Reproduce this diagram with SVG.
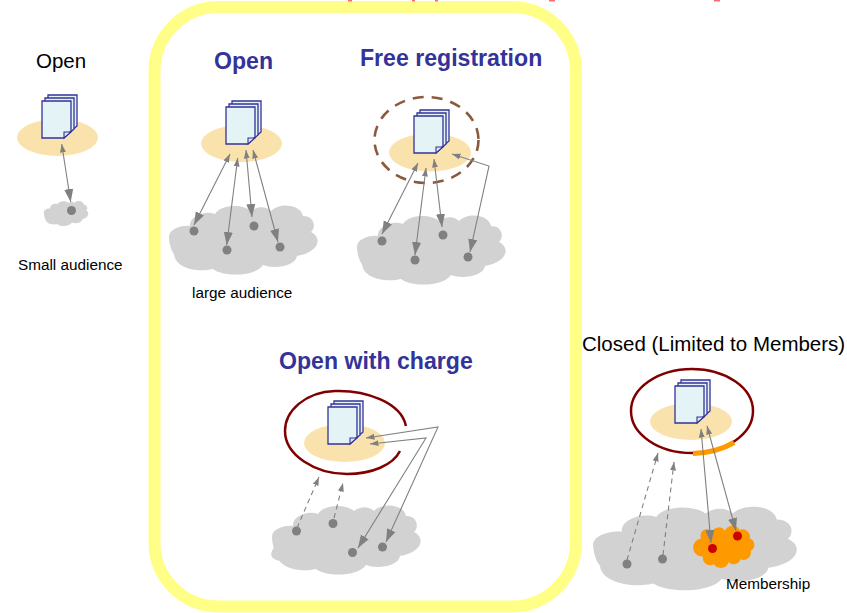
<svg xmlns="http://www.w3.org/2000/svg" width="847" height="613" viewBox="0 0 847 613">
<style>
text{font-family:"Liberation Sans",Arial,sans-serif}
.h{font-size:23.1px;font-weight:bold;fill:#333399}
.k{font-size:20.5px;fill:#000}
.s{font-size:15.3px;fill:#000}
.cl{fill:#d2d2d2}
.e{fill:#fae2ad}
.d{fill:#808080}
.a{fill:none;stroke:#808080;stroke-width:1.1;marker-start:url(#m);marker-end:url(#b)}
.p{fill:#e4f3f5;stroke:#333399;stroke-width:1.3}
.ds{fill:none;stroke:#808080;stroke-width:1.1;stroke-dasharray:5 4;marker-end:url(#sm)}
</style>
<defs>
<marker id="m" viewBox="0 0 10 10" refX="10" refY="5" markerUnits="userSpaceOnUse" markerWidth="8.500" markerHeight="8.500" orient="auto-start-reverse"><path d="M0 1.500L10 5L0 8.500z" fill="#808080"/></marker>
<marker id="b" viewBox="0 0 10 10" refX="10" refY="5" markerUnits="userSpaceOnUse" markerWidth="13" markerHeight="13" orient="auto"><path d="M0 1.500L10 5L0 8.500z" fill="#808080"/></marker>
<marker id="sm" viewBox="0 0 10 10" refX="10" refY="5" markerUnits="userSpaceOnUse" markerWidth="8.500" markerHeight="8.500" orient="auto"><path d="M0 1.500L10 5L0 8.500z" fill="#808080"/></marker>
<g id="doc">
<path class="p" d="M6 0H35V31L27 38H6z"/>
<path class="p" d="M3 3H32V34L24 41H3z"/>
<path class="p" d="M0 6H29V36L22 43H0z"/>
<path d="M22 43V37H29z" fill="#dfe6f2" stroke="#333399" stroke-width="1.1"/>
</g>
<path id="cloud" class="cl" d="M-74 -3C-74 -11 -62 -15 -53 -14C-54 -24 -38 -30 -28 -26C-22 -36 0 -36 8 -29C16 -35 24 -33 28 -29C36 -38 58 -36 60 -24C72 -24 73 -12 68 -8C80 -2 76 12 54 16C52 27 30 29 20 25C12 37 -20 37 -30 29C-46 33 -68 28 -69 14C-72 11 -74 2 -74 -3Z"/>
</defs>
<rect width="847" height="613" fill="#fff"/>

<g id="frame"><rect x="154.500" y="7" width="421.500" height="599.500" rx="64" ry="64" fill="none" stroke="#ffff88" stroke-width="12"/></g>
<g id="clipped-marks" fill="#ff6a6a"><rect x="348" y="0" width="4" height="1.500"/><rect x="412" y="0" width="3" height="1.500"/><rect x="435" y="0" width="3" height="1.500"/><rect x="549" y="0" width="6" height="1.500"/><rect x="714" y="0" width="6" height="1.500"/></g>

<g id="node-open-small">
<text class="k" x="36" y="68">Open</text>
<ellipse class="e" cx="57.500" cy="137.500" rx="40.500" ry="18.500"/>
<use href="#doc" x="42" y="95"/>
<use href="#cloud" transform="translate(66,213.500) scale(.3,.36)"/>
<circle class="d" cx="71.500" cy="210.500" r="4.500"/>
<text class="s" x="18" y="270">Small audience</text>
</g>

<g id="node-open">
<text class="h" x="214" y="69">Open</text>
<ellipse class="e" cx="241.500" cy="143.500" rx="40.500" ry="18.500"/>
<use href="#doc" x="226" y="101"/>
<use href="#cloud" x="243" y="240"/>
<circle class="d" cx="194" cy="231" r="4.500"/><circle class="d" cx="227" cy="250" r="4.500"/><circle class="d" cx="254" cy="226" r="4.500"/><circle class="d" cx="280" cy="247" r="4.500"/>
<text class="s" x="192" y="298">large audience</text>
</g>

<g id="node-free">
<text class="h" x="360" y="66">Free registration</text>
<ellipse class="e" cx="430" cy="152.500" rx="41" ry="19"/>
<ellipse cx="426.500" cy="140" rx="52" ry="43" fill="none" stroke="#8b5a3c" stroke-width="2.600" stroke-dasharray="11 8.100"/>
<use href="#doc" x="414" y="110"/>
<use href="#cloud" x="431" y="250"/>
<circle class="d" cx="382" cy="241" r="4.500"/><circle class="d" cx="415" cy="260" r="4.500"/><circle class="d" cx="443" cy="235" r="4.500"/><circle class="d" cx="468" cy="257" r="4.500"/>
</g>

<g id="node-charge">
<text class="h" x="279" y="369">Open with charge</text>
<path d="M406 426C401 402 365 390 335 391C305 392 285 411 285 431C285 455 315 474 347 474C372 474 393 465 400 451" fill="none" stroke="#800000" stroke-width="2.500"/>
<ellipse class="e" cx="344.500" cy="443" rx="40.500" ry="19"/>
<use href="#doc" x="328" y="401"/>
<use href="#cloud" x="346" y="540"/>
<path class="cl" d="M276 545L300 540L300 561L282 561C270 560 268 554 276 545z"/>
<circle class="d" cx="296.500" cy="531" r="4.500"/><circle class="d" cx="333" cy="523.500" r="4.500"/><circle class="d" cx="352.500" cy="552.500" r="4.500"/><circle class="d" cx="382.500" cy="547" r="4.500"/>
</g>

<g id="node-closed">
<text class="k" x="582" y="351">Closed (Limited to Members)</text>
<ellipse class="e" cx="691" cy="421.500" rx="41" ry="18.500"/>
<ellipse cx="692" cy="411" rx="61" ry="42" fill="none" stroke="#800000" stroke-width="2.500"/>
<path d="M693 453.500C708 453 723 449 734 442.500" fill="none" stroke="#ff9900" stroke-width="5"/>
<use href="#doc" x="675" y="380"/>
<use href="#cloud" transform="translate(694.500,548.500) scale(1.37,1.21)"/>
<path transform="translate(724,547) scale(.92,.95) translate(-724,-547)" d="M699 538A7 7 0 0 1 711 531A8 8 0 0 1 725 530A9 9 0 0 1 741 529A8 8 0 0 1 752 538A7 7 0 0 1 753 551A8 8 0 0 1 742 560A8 8 0 0 1 729 563A9 9 0 0 1 713 565A8 8 0 0 1 701 557A8 8 0 0 1 699 538z" fill="#ff9900"/>
<circle cx="712.500" cy="548.500" r="4.500" fill="#cc0000"/><circle cx="737.500" cy="536" r="4.500" fill="#cc0000"/>
<circle class="d" cx="627" cy="564" r="4.500"/><circle class="d" cx="662.500" cy="559" r="4.500"/>
<text class="s" x="726" y="589">Membership</text>
</g>

<g id="connectors">
<line class="a" x1="61.700" y1="144" x2="70.700" y2="202"/>
<line class="a" x1="230" y1="154" x2="194" y2="225"/>
<line class="a" x1="237.700" y1="158" x2="226.700" y2="245"/>
<line class="a" x1="246" y1="150" x2="252" y2="217"/>
<line class="a" x1="253" y1="150" x2="278" y2="242"/>
<line class="a" x1="418" y1="163" x2="382" y2="234"/>
<line class="a" x1="426" y1="168" x2="415" y2="255"/>
<line class="a" x1="434" y1="159" x2="442" y2="227"/>
<path class="a" d="M452 154L489 166L470 252"/>
<path class="a" d="M366 438L438 427L386 542"/>
<path class="a" d="M370 444L426 438L358 548"/>
<line class="ds" x1="297" y1="528" x2="319" y2="477"/>
<line class="ds" x1="334" y1="518" x2="343" y2="483"/>
<line class="ds" x1="627" y1="560" x2="658" y2="453"/>
<line class="ds" x1="663" y1="555" x2="674" y2="462"/>
<line class="a" x1="701" y1="429" x2="711" y2="543"/>
<line class="a" x1="707" y1="426" x2="736" y2="531"/>
</g>
</svg>
